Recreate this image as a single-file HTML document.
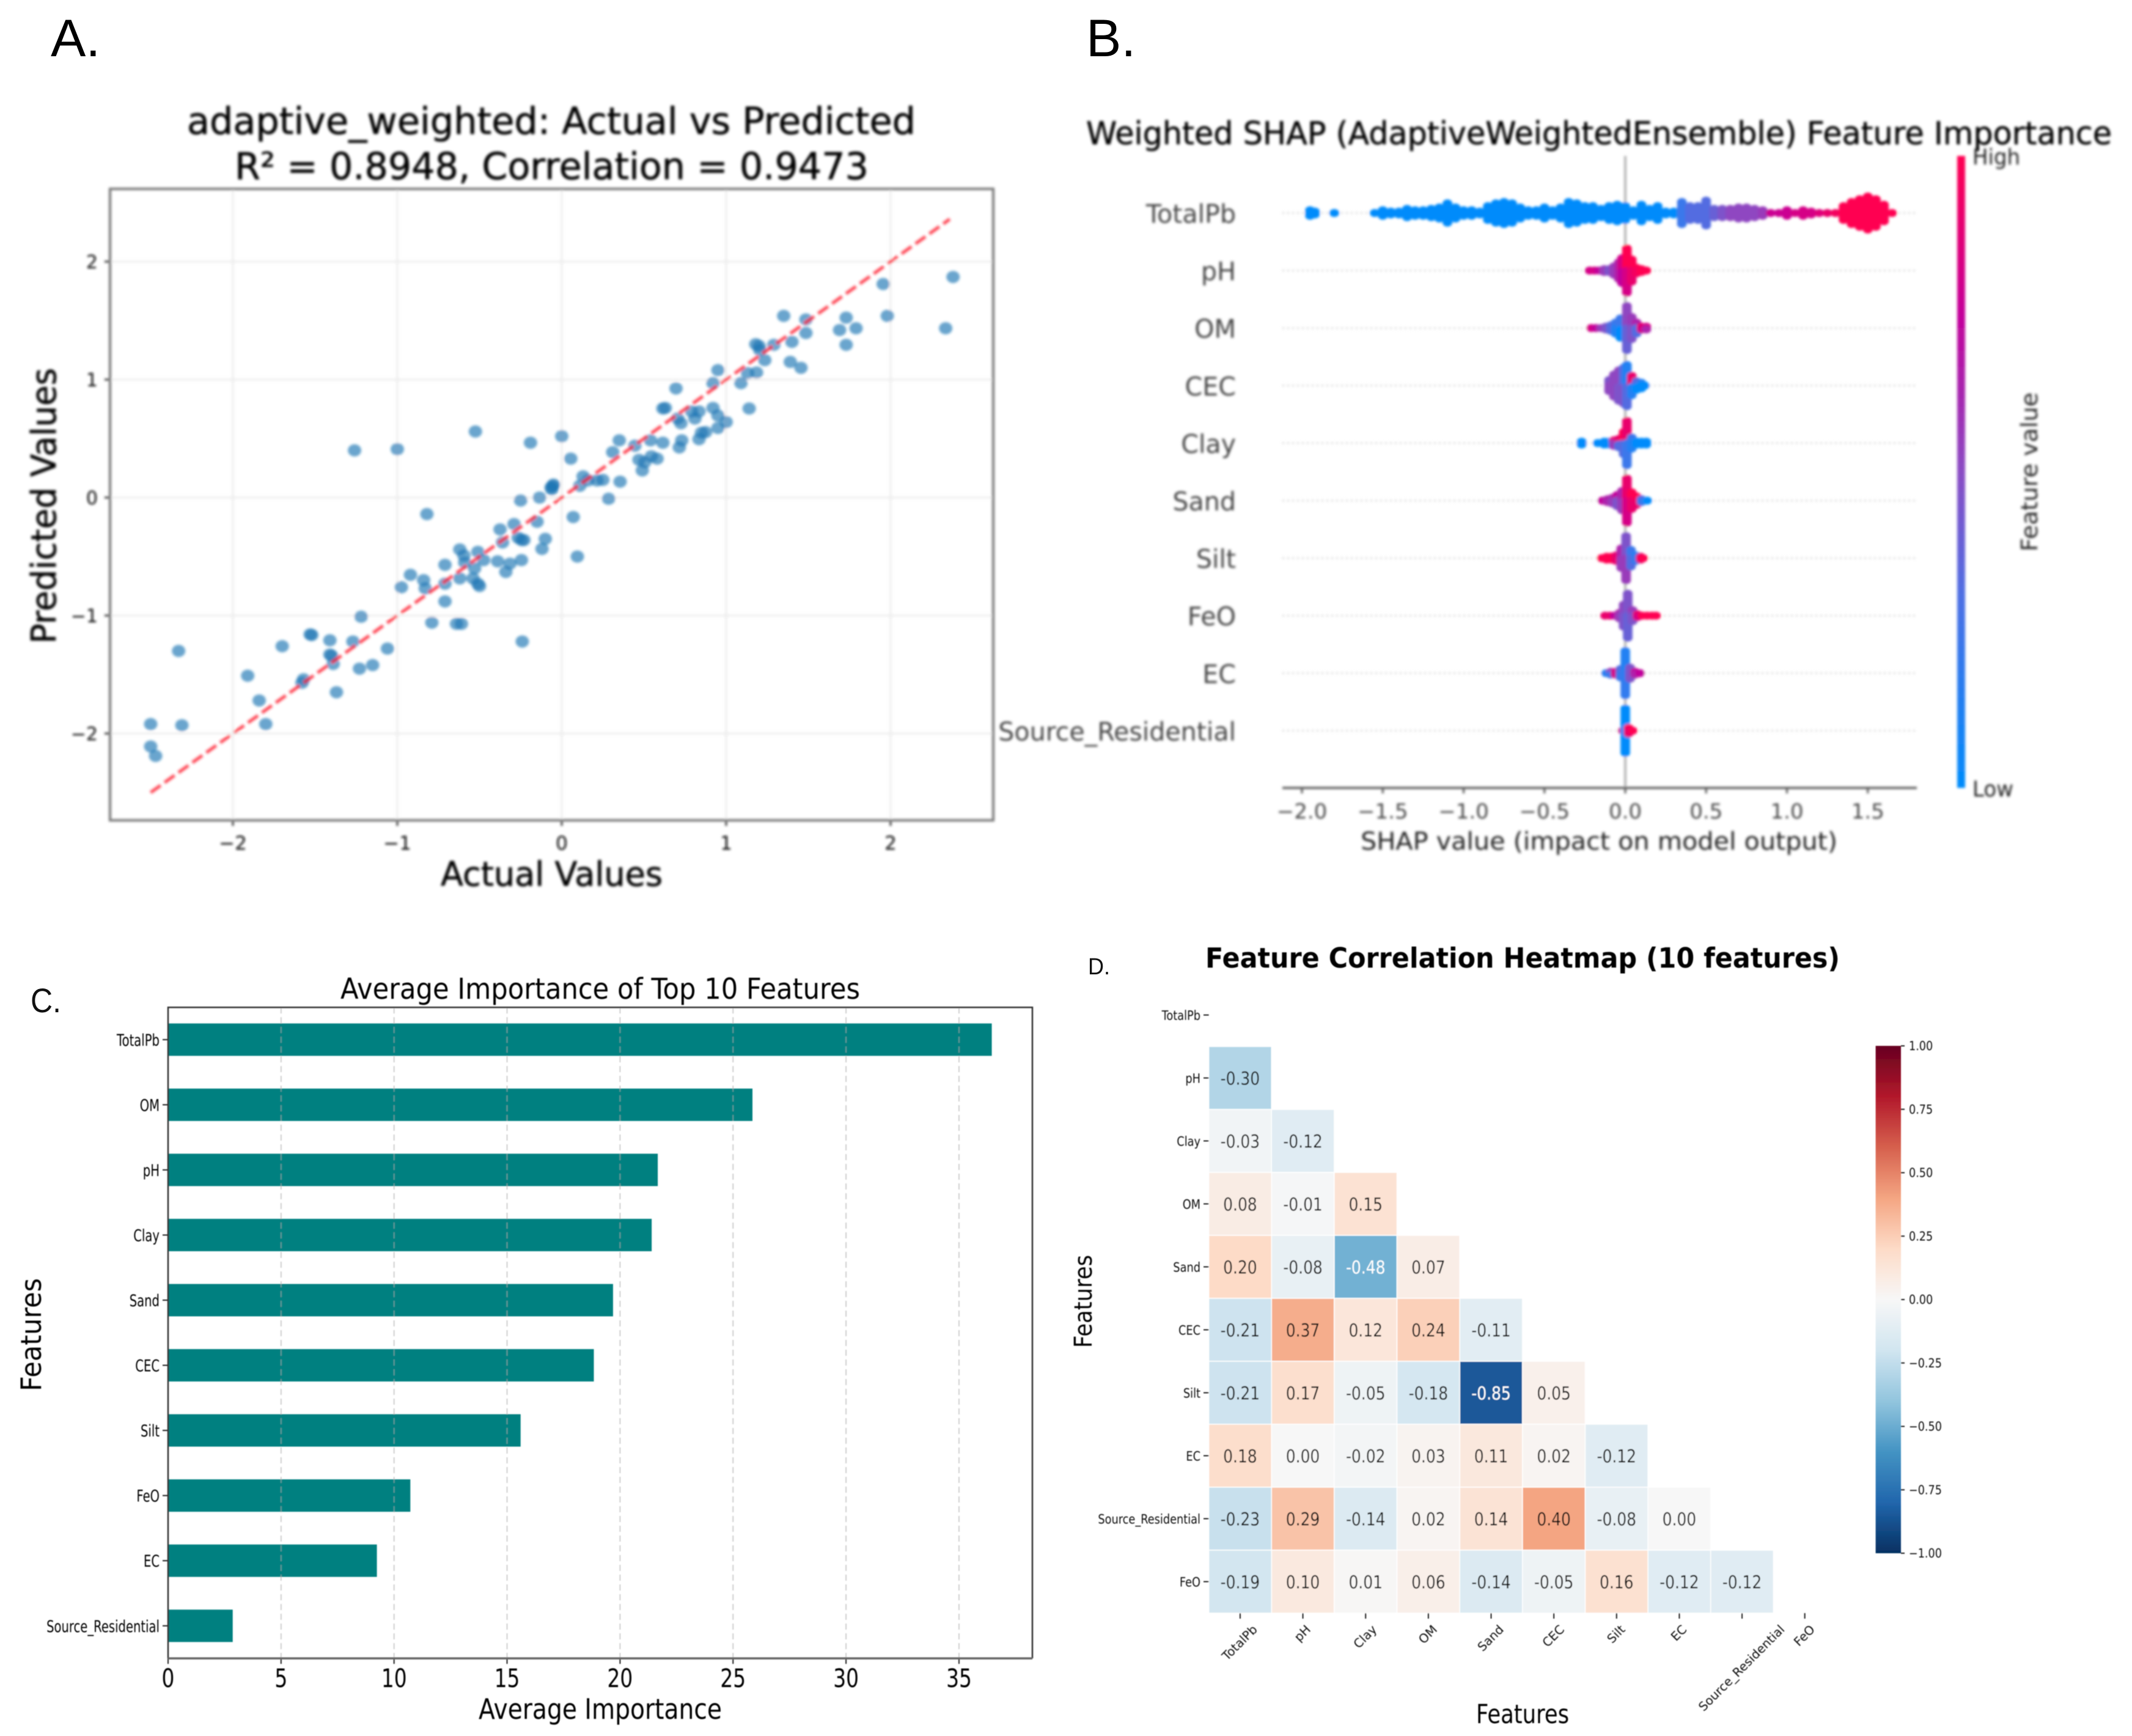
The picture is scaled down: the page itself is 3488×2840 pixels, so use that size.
<!DOCTYPE html>
<html lang="en">
<head>
<meta charset="utf-8">
<title>Model evaluation figure</title>
<style>
html,body{margin:0;padding:0;background:#fff;width:3488px;height:2840px;overflow:hidden}
svg{display:block}
text{font-family:"DejaVu Sans","Liberation Sans",sans-serif}
.lab{font-family:"Liberation Sans",sans-serif;fill:#000}
</style>
</head>
<body>
<svg id="fig" xmlns="http://www.w3.org/2000/svg" width="3488" height="2840" viewBox="0 0 3488 2840">
  <defs>
    <filter id="blurA" x="-5%" y="-5%" width="110%" height="110%"><feGaussianBlur stdDeviation="2.1"/></filter>
    <filter id="blurB" x="-5%" y="-5%" width="110%" height="110%"><feGaussianBlur stdDeviation="2.1"/></filter>
    <filter id="blurC" x="-5%" y="-5%" width="110%" height="110%"><feGaussianBlur stdDeviation="0.7"/></filter>
    <linearGradient id="shapGrad" x1="0" y1="1" x2="0" y2="0">
      <stop offset="0" stop-color="#008bfb"/>
      <stop offset="0.3" stop-color="#4d70e4"/>
      <stop offset="0.5" stop-color="#8a4cc4"/>
      <stop offset="0.75" stop-color="#c4009a"/>
      <stop offset="1" stop-color="#ff0051"/>
    </linearGradient>
    <linearGradient id="heatGrad" x1="0" y1="1" x2="0" y2="0"></linearGradient>
  </defs>

  <text class="lab" x="83" y="92" font-size="86">A.</text>
  <text class="lab" x="1777" y="92" font-size="86">B.</text>
  <text class="lab" x="50" y="1656" font-size="56" textLength="50" lengthAdjust="spacingAndGlyphs" style="fill:#111">C.</text>
  <text class="lab" x="1780" y="1594" font-size="38" textLength="36" lengthAdjust="spacingAndGlyphs" style="fill:#111">D.</text>

  <g id="panelA" filter="url(#blurA)">
    <text x="306" y="219" font-size="61" fill="#000" stroke="#000" stroke-width="0.6" textLength="1192" lengthAdjust="spacingAndGlyphs">adaptive_weighted: Actual vs Predicted</text>
    <text x="384" y="293" font-size="61" fill="#000" stroke="#000" stroke-width="0.6" textLength="1037" lengthAdjust="spacingAndGlyphs">R² = 0.8948, Correlation = 0.9473</text>
    <text x="721" y="1449" font-size="55" fill="#000" stroke="#000" stroke-width="0.6" textLength="363" lengthAdjust="spacingAndGlyphs">Actual Values</text>
    <text transform="translate(91,1053) rotate(-90)" font-size="56" fill="#000" stroke="#000" stroke-width="0.6" textLength="451" lengthAdjust="spacingAndGlyphs">Predicted Values</text>
  </g>

  <g id="panelB" filter="url(#blurB)">
    <text x="1777" y="236" font-size="52" fill="#000" stroke="#000" stroke-width="0.5" textLength="1678" lengthAdjust="spacingAndGlyphs">Weighted SHAP (AdaptiveWeightedEnsemble) Feature Importance</text>
    <text x="2226" y="1390" font-size="40" fill="#222" textLength="780" lengthAdjust="spacingAndGlyphs">SHAP value (impact on model output)</text>
    <rect x="3202" y="255" width="13" height="1034" fill="url(#shapGrad)"/>
    <text x="3227" y="269" font-size="36" fill="#222" textLength="78" lengthAdjust="spacingAndGlyphs">High</text>
    <text x="3227" y="1303" font-size="36" fill="#222" textLength="67" lengthAdjust="spacingAndGlyphs">Low</text>
    <text transform="translate(3333,902) rotate(-90)" font-size="37" fill="#222" textLength="260" lengthAdjust="spacingAndGlyphs">Feature value</text>
  </g>

  <g id="panelC" filter="url(#blurC)">
    <text x="557" y="1634" font-size="47" fill="#000" textLength="850" lengthAdjust="spacingAndGlyphs">Average Importance of Top 10 Features</text>
    <text x="783" y="2812" font-size="46" fill="#000" textLength="398" lengthAdjust="spacingAndGlyphs">Average Importance</text>
    <text transform="translate(67,2276) rotate(-90)" font-size="46" fill="#000" textLength="185" lengthAdjust="spacingAndGlyphs">Features</text>
  </g>

  <g id="panelD" filter="url(#blurC)">
    <text x="1972" y="1583" font-size="45" font-weight="bold" fill="#000" textLength="1038" lengthAdjust="spacingAndGlyphs">Feature Correlation Heatmap (10 features)</text>
    <text x="2415" y="2819" font-size="43" fill="#000" textLength="152" lengthAdjust="spacingAndGlyphs">Features</text>
    <text transform="translate(1786,2205) rotate(-90)" font-size="40" fill="#000" textLength="152" lengthAdjust="spacingAndGlyphs">Features</text>
  </g>
</svg>

<script>
/* ---------- Panel A data ---------- */
const actualValues = [-2.5,-2.5,-2.47,-2.31,-2.33,-1.91,-1.84,-1.80,-1.70,-1.58,-1.57,-1.53,-1.52,-1.41,-1.41,-1.40,-1.39,-1.37,-1.27,-1.23,-1.22,-1.15,-1.06,-1.26,-1.0,-0.525,-0.975,-0.92,-0.84,-0.83,-0.82,-0.79,-0.71,-0.71,-0.71,-0.64,-0.61,-0.62,-0.62,-0.595,-0.59,-0.54,-0.53,-0.51,-0.51,-0.50,-0.475,-0.39,-0.375,-0.36,-0.34,-0.315,-0.29,-0.265,-0.245,-0.245,-0.23,-0.24,-0.25,-0.19,-0.15,-0.135,-0.10,-0.12,-0.065,-0.055,-0.06,-0.05,0,0.055,0.07,0.095,0.11,0.13,0.16,0.215,0.25,0.285,0.31,0.355,0.35,0.445,0.47,0.49,0.505,0.54,0.545,0.58,0.615,0.615,0.63,0.695,0.715,0.73,0.705,0.725,0.79,0.835,0.81,0.835,0.85,0.875,0.92,0.95,1.0,0.95,0.92,0.95,1.09,1.13,1.14,1.185,1.18,1.20,1.205,1.235,1.29,1.35,1.39,1.40,1.455,1.485,1.485,1.69,1.73,1.73,1.79,1.955,1.98,2.335,2.38];
const predictedValues = [-1.92,-2.11,-2.19,-1.93,-1.30,-1.51,-1.72,-1.92,-1.26,-1.57,-1.54,-1.16,-1.165,-1.21,-1.33,-1.34,-1.41,-1.65,-1.22,-1.45,-1.01,-1.42,-1.28,0.40,0.41,0.56,-0.76,-0.655,-0.70,-0.77,-0.14,-1.06,-0.57,-0.73,-0.88,-1.07,-1.07,-0.44,-0.685,-0.49,-0.55,-0.685,-0.60,-0.46,-0.73,-0.75,-0.53,-0.54,-0.27,-0.38,-0.63,-0.56,-0.225,-0.34,-0.53,-0.36,-0.36,-1.22,-0.025,0.465,-0.205,0.0,-0.35,-0.435,0.085,0.10,0.07,0.11,0.52,0.33,-0.165,-0.50,0.10,0.18,0.145,0.145,0.15,-0.01,0.385,0.135,0.485,0.44,0.32,0.23,0.30,0.485,0.35,0.33,0.465,0.755,0.76,0.925,0.425,0.485,0.67,0.63,0.73,0.73,0.67,0.495,0.55,0.555,0.76,0.695,0.64,0.59,0.97,1.08,0.97,1.055,0.755,1.06,1.30,1.285,1.25,1.165,1.295,1.54,1.15,1.32,1.10,1.51,1.395,1.42,1.525,1.295,1.435,1.81,1.54,1.435,1.87];
const identityEnds = [-2.5,2.36];
const scatterXTicks = [-2,-1,0,1,2];
const scatterYTicks = [-2,-1,0,1,2];

/* ---------- Panel B data ---------- */
const shapFeatures = ["TotalPb","pH","OM","CEC","Clay","Sand","Silt","FeO","EC","Source_Residential"];
const shapXTicks = [-2.0,-1.5,-1.0,-0.5,0.0,0.5,1.0,1.5];
const totalPbShap = [-1.95,-1.92,-1.80,-1.55,-1.50,-1.45,-1.40,-1.35,-1.30,-1.25,-1.20,-1.15,-1.10,-1.05,-1.00,-.95,-.90,-.85,-.80,-.75,-.70,-.65,-.60,-.55,-.50,-.45,-.40,-.35,-.30,-.25,-.20,-.15,-.10,-.05,0,.05,.10,.15,.20,.25,.30,.35,.40,.45,.50,.55,.60,.65,.70,.75,.80,.85,.90,.95,1.00,1.05,1.10,1.15,1.20,1.25,1.30,1.35,1.40,1.45,1.50,1.55,1.60,1.65];
const totalPbCount = [3,2,1,1,3,2,2,4,3,3,4,5,8,5,3,3,2,6,8,9,8,5,3,3,5,3,5,9,8,6,6,4,6,7,6,3,7,4,6,2,2,9,6,6,10,4,4,4,5,5,4,3,1,1,3,1,3,2,1,1,1,6,9,11,13,11,7,1];
const totalPbFeature = [0,0,0,0,0,0,0,0,0,0,0,0,0,0,0,0,0,0,0,0,0,0,0,0,0,0,0,0,0,0,0,0,0,0,0,0,0,0,0,0,0,.2,.3,.3,.3,.35,.4,.45,.45,.45,.45,.5,.75,.75,.75,.8,.8,.8,.85,.9,.95,1,1,1,1,1,1,1];
const phShap = [-.22,-.19,-.16,-.13,-.10,-.07,-.04,-.02,.01,.04,.07,.10,.13];
const phCount = [1,1,1,2,2,4,7,10,17,9,3,2,1];
const phTop = [.8,.8,.7,.5,.4,.5,.6,.8,1,1,1,1,1];
const phBottom = [.8,.8,.7,.5,.4,.5,.6,.7,.8,.9,.95,1,1];
const omShap = [-.21,-.18,-.15,-.12,-.09,-.06,-.03,.01,.04,.07,.10,.13];
const omCount = [1,1,1,2,3,5,8,17,9,5,2,2];
const omTop = [.8,.7,.5,.4,.3,.2,.2,.45,.5,.6,.9,.8];
const omBottom = [.8,.7,.5,.4,.3,.1,0,.35,.4,.3,.8,.6];
const cecShap = [-.10,-.07,-.04,-.01,.01,.04,.07,.10,.12];
const cecCount = [5,9,12,14,16,8,4,3,1];
const cecTop = [.4,.45,.45,.3,.1,.9,.3,.1,0];
const cecBottom = [.45,.45,.4,.4,.3,.1,0,0,0];
const clayShap = [-.27,-.17,-.13,-.10,-.07,-.04,-.01,.01,.04,.07,.10,.13];
const clayCount = [2,1,2,2,3,4,9,17,5,2,2,2];
const clayTop = [0,0,0,0,.9,.9,1,.9,.2,0,0,0];
const clayBottom = [0,0,0,0,.5,.3,.3,.2,.1,0,0,0];
const sandShap = [-.14,-.11,-.08,-.05,-.02,.01,.04,.07,.10,.135];
const sandCount = [1,2,3,5,8,17,7,4,2,1];
const sandTop = [.7,.6,.6,.7,.6,.9,1,1,.3,0];
const sandBottom = [.7,.6,.5,.4,.5,.8,.9,.9,.2,0];
const siltShap = [-.145,-.115,-.085,-.055,-.025,.005,.035,.065,.095,.11];
const siltCount = [1,2,2,3,8,17,7,3,2,1];
const siltTop = [1,1,1,.9,.6,.4,.2,.1,.9,1];
const siltBottom = [1,1,1,.9,.5,.5,.3,.2,.9,1];
const feoShap = [-.125,-.095,-.065,-.035,-.01,.015,.045,.075,.105,.135,.165,.19];
const feoCount = [1,1,1,3,9,17,5,2,1,1,1,1];
const feoTop = [.9,.9,.8,.6,.45,.4,.5,.9,1,1,1,1];
const feoBottom = [.9,.9,.7,.5,.4,.35,.4,.8,1,1,1,1];
const ecShap = [-.118,-.09,-.06,-.03,0,.03,.06,.09];
const ecCount = [1,2,2,4,17,5,2,1];
const ecTop = [.1,.5,.8,.3,.1,.4,.7,.7];
const ecBottom = [.1,.2,.8,.2,.15,.4,.6,.7];
const sourceShap = [-.015,0,.02,.045];
const sourceCount = [1,17,3,1];
const sourceTop = [.8,0,1,1];
const sourceBottom = [.8,0,.9,1];

/* ---------- Panel C data ---------- */
const importanceFeatures = ["TotalPb","OM","pH","Clay","Sand","CEC","Silt","FeO","EC","Source_Residential"];
const importanceValues = [36.45,25.86,21.67,21.4,19.69,18.84,15.6,10.72,9.24,2.86];
const importanceTicks = [0,5,10,15,20,25,30,35];

/* ---------- Panel D data ---------- */
const heatFeatures = ["TotalPb","pH","Clay","OM","Sand","CEC","Silt","EC","Source_Residential","FeO"];
const corrRow0 = [];
const corrRow1 = [-0.30];
const corrRow2 = [-0.03,-0.12];
const corrRow3 = [0.08,-0.01,0.15];
const corrRow4 = [0.20,-0.08,-0.48,0.07];
const corrRow5 = [-0.21,0.37,0.12,0.24,-0.11];
const corrRow6 = [-0.21,0.17,-0.05,-0.18,-0.85,0.05];
const corrRow7 = [0.18,0.00,-0.02,0.03,0.11,0.02,-0.12];
const corrRow8 = [-0.23,0.29,-0.14,0.02,0.14,0.40,-0.08,0.00];
const corrRow9 = [-0.19,0.10,0.01,0.06,-0.14,-0.05,0.16,-0.12,-0.12];
const heatColorbarTicks = [1.00,0.75,0.50,0.25,0.00,-0.25,-0.50,-0.75,-1.00];
const rdBuStops = ["#053061","#2166ac","#4393c3","#92c5de","#d1e5f0","#f7f7f7","#fddbc7","#f4a582","#d6604d","#b2182b","#67001f"];
const shapColorStops = ["#008bfb","#2f7df0","#4d70e4","#8a4cc4","#a82ab0","#c4009a","#e00078","#ff0051"];

/* ---------- Helpers ---------- */
const NS = "http://www.w3.org/2000/svg";
function mk(tag, attrs, parent, txt){
  const el = document.createElementNS(NS, tag);
  for(const k in attrs){ el.setAttribute(k, attrs[k]); }
  if(txt !== undefined){ el.textContent = txt; }
  parent.appendChild(el);
  return el;
}
function squeeze(el, factor){
  const w = el.getComputedTextLength();
  el.setAttribute("textLength", (w*factor).toFixed(1));
  el.setAttribute("lengthAdjust", "spacingAndGlyphs");
}
function hexRgb(h){ return [parseInt(h.slice(1,3),16),parseInt(h.slice(3,5),16),parseInt(h.slice(5,7),16)]; }
function ramp(stops, t){
  const p = Math.max(0,Math.min(1,t))*(stops.length-1);
  const i = Math.min(Math.floor(p), stops.length-2);
  const f = p-i, a = hexRgb(stops[i]), b = hexRgb(stops[i+1]);
  return "rgb("+a.map((c,k)=>Math.round(c+(b[k]-c)*f)).join(",")+")";
}
function minusFmt(v, d){ return (v<0?"\u2212":"")+Math.abs(v).toFixed(d); }

/* ---------- Panel A ---------- */
const gA = document.getElementById("panelA");
const xA = v => 919 + 269*v;
const yA = v => 814 - 193*v;
const A_BOX = {l:180, r:1625, t:309, b:1342};
scatterXTicks.forEach(t=>{
  const g = mk("line",{x1:xA(t),x2:xA(t),y1:A_BOX.t,y2:A_BOX.b,stroke:"#ececec","stroke-width":3},gA);
  
  
  const tk = mk("line",{x1:xA(t),x2:xA(t),y1:A_BOX.b,y2:A_BOX.b+9,stroke:"#333","stroke-width":3},gA);
  
  
  const lb = mk("text",{x:xA(t),y:1390,"font-size":31,"text-anchor":"middle",fill:"#111"},gA,t<0?"\u2212"+Math.abs(t):String(t));
  
  
});
scatterYTicks.forEach(t=>{
  const g = mk("line",{x1:A_BOX.l,x2:A_BOX.r,y1:yA(t),y2:yA(t),stroke:"#ececec","stroke-width":3},gA);
  
  
  const tk = mk("line",{x1:A_BOX.l-9,x2:A_BOX.l,y1:yA(t),y2:yA(t),stroke:"#333","stroke-width":3},gA);
  
  
  const lb = mk("text",{x:160,y:yA(t)+11,"font-size":30,"text-anchor":"end",fill:"#111"},gA,t<0?"\u2212"+Math.abs(t):String(t));
  
  
});
const frameA = mk("rect",{x:A_BOX.l,y:A_BOX.t,width:A_BOX.r-A_BOX.l,height:A_BOX.b-A_BOX.t,fill:"none",stroke:"#777","stroke-width":4},gA);


actualValues.forEach((a,i)=>{
  const dot = mk("ellipse",{cx:xA(a),cy:yA(predictedValues[i]),rx:11,ry:10,fill:"#1f77b4","fill-opacity":0.66},gA);
  
  
});
const idLine = mk("line",{x1:xA(identityEnds[0]),y1:yA(identityEnds[0]),x2:xA(identityEnds[1]),y2:yA(identityEnds[1]),stroke:"#ff1f2f","stroke-opacity":0.78,"stroke-width":5.5,"stroke-dasharray":"20 8"},gA);



/* ---------- Panel B ---------- */
const gB = document.getElementById("panelB");
const xB = v => 2659 + 264.5*v;
const yB = i => 348.5 + 94.1*i;
const SWARM_STEP = 4.5;
shapFeatures.forEach((f,i)=>{
  const guide = mk("line",{x1:2098,x2:3136,y1:yB(i),y2:yB(i),stroke:"#d8d8d8","stroke-width":3,"stroke-dasharray":"3 5"},gB);
  
  
  const lb = mk("text",{x:2022,y:yB(i)+16,"font-size":42,"text-anchor":"end",fill:"#444"},gB,f);
  
  
  squeeze(lb,0.98);
});
const zeroLine = mk("line",{x1:xB(0),x2:xB(0),y1:255,y2:1289,stroke:"#b5b5b5","stroke-width":4},gB);


const axisB = mk("line",{x1:2098,x2:3136,y1:1289,y2:1289,stroke:"#555","stroke-width":3.5},gB);


shapXTicks.forEach(t=>{
  const tk = mk("line",{x1:xB(t),x2:xB(t),y1:1289,y2:1298,stroke:"#555","stroke-width":3},gB);
  
  
  const lb = mk("text",{x:xB(t),y:1339,"font-size":34,"text-anchor":"middle",fill:"#444"},gB,minusFmt(t,1));
  
  
});
function drawSwarm(row, shap, counts, top, bottom){
  shap.forEach((s,b)=>{
    const n = counts[b];
    for(let k=0;k<n;k++){
      const off = (k-(n-1)/2)*SWARM_STEP;
      const f = off<0 ? top[b] : bottom[b];
      const dot = mk("ellipse",{cx:xB(s),cy:yB(row)+off,rx:8,ry:6.5,fill:ramp(shapColorStops,f)},gB);
      
      
    }
  });
}
drawSwarm(0,totalPbShap,totalPbCount,totalPbFeature,totalPbFeature);
drawSwarm(1,phShap,phCount,phTop,phBottom);
drawSwarm(2,omShap,omCount,omTop,omBottom);
drawSwarm(3,cecShap,cecCount,cecTop,cecBottom);
drawSwarm(4,clayShap,clayCount,clayTop,clayBottom);
drawSwarm(5,sandShap,sandCount,sandTop,sandBottom);
drawSwarm(6,siltShap,siltCount,siltTop,siltBottom);
drawSwarm(7,feoShap,feoCount,feoTop,feoBottom);
drawSwarm(8,ecShap,ecCount,ecTop,ecBottom);
drawSwarm(9,sourceShap,sourceCount,sourceTop,sourceBottom);

/* ---------- Panel C ---------- */
const gC = document.getElementById("panelC");
const xC = v => 275 + 36.97*v;
const yC = i => 1700.8 + 106.55*i;
const C_BOX = {l:275, r:1689, t:1648, b:2713};
const BAR_H = 53;
importanceFeatures.forEach((f,i)=>{
  const bar = mk("rect",{x:xC(0),y:yC(i)-BAR_H/2,width:xC(importanceValues[i])-xC(0),height:BAR_H,fill:"#008080"},gC);
  
  
  const tk = mk("line",{x1:C_BOX.l-9,x2:C_BOX.l,y1:yC(i),y2:yC(i),stroke:"#222","stroke-width":2},gC);
  
  
  const lb = mk("text",{x:261,y:yC(i)+10,"font-size":27,"text-anchor":"end",fill:"#000"},gC,f);
  
  
  squeeze(lb,0.725);
});
importanceTicks.forEach(t=>{
  if(t>0){
    const g = mk("line",{x1:xC(t),x2:xC(t),y1:C_BOX.t,y2:C_BOX.b,stroke:"#aaa","stroke-opacity":0.55,"stroke-width":2,"stroke-dasharray":"10 6"},gC);
    
    
  }
  const tk = mk("line",{x1:xC(t),x2:xC(t),y1:C_BOX.b,y2:C_BOX.b+9,stroke:"#222","stroke-width":2},gC);
  
  
  const lb = mk("text",{x:xC(t),y:2760,"font-size":42,"text-anchor":"middle",fill:"#000"},gC,String(t));
  
  
  squeeze(lb,0.78);
});
const frameC = mk("path",{d:`M${C_BOX.l} ${C_BOX.b}V${C_BOX.t}H${C_BOX.r}V${C_BOX.b}`,fill:"none",stroke:"#333","stroke-width":2.5},gC);


const baseC = mk("line",{x1:C_BOX.l,x2:C_BOX.r,y1:C_BOX.b,y2:C_BOX.b,stroke:"#666","stroke-width":3.5},gC);



/* ---------- Panel D ---------- */
const gD = document.getElementById("panelD");
const CELL_W = 102.64, CELL_H = 103;
const xD = c => 1977.6 + CELL_W*c;
const yD = r => 1609 + CELL_H*r;
const corrRows = [corrRow0,corrRow1,corrRow2,corrRow3,corrRow4,corrRow5,corrRow6,corrRow7,corrRow8,corrRow9];
const heatColor = v => ramp(rdBuStops,(v+1)/2);
corrRows.forEach((row,r)=>{
  row.forEach((v,c)=>{
    const cell = mk("rect",{x:xD(c),y:yD(r),width:CELL_W,height:CELL_H,fill:heatColor(v),stroke:"#fff","stroke-width":1.5},gD);
    
    
    const lb = mk("text",{x:xD(c)+CELL_W/2,y:yD(r)+CELL_H/2+11,"font-size":29,"text-anchor":"middle",fill:Math.abs(v)>0.45?"#fff":"#111"},gD,v.toFixed(2));
    
    
    squeeze(lb,0.86);
  });
});
heatFeatures.forEach((f,i)=>{
  const ty = yD(i)+CELL_H/2;
  const tk = mk("line",{x1:1969,x2:1977.6,y1:ty,y2:ty,stroke:"#222","stroke-width":2},gD);
  
  
  const lb = mk("text",{x:1964,y:ty+8,"font-size":21,"text-anchor":"end",fill:"#111"},gD,f);
  
  
  squeeze(lb,0.845);
  const tx = xD(i)+CELL_W/2;
  const tk2 = mk("line",{x1:tx,x2:tx,y1:2639,y2:2648,stroke:"#222","stroke-width":2},gD);
  
  
  const lb2 = mk("text",{x:0,y:0,"font-size":20,"text-anchor":"middle",fill:"#111"},gD,f);
  
  
  const len = lb2.getComputedTextLength();
  const half = len*0.7071/2 + 5;
  lb2.setAttribute("transform",`translate(${tx+4},${2656+half+6}) rotate(-45)`);
});
const gradD = document.getElementById("heatGrad");
rdBuStops.forEach((col,i)=>{
  mk("stop",{offset:i/(rdBuStops.length-1),"stop-color":col},gradD);
});
const cbTop = 1711, cbBot = 2541, cbL = 3068.6, cbR = 3110;
const yCb = v => cbTop + (1-v)/2*(cbBot-cbTop);
const cb = mk("rect",{x:cbL,y:cbTop,width:cbR-cbL,height:cbBot-cbTop,fill:"url(#heatGrad)"},gD);


heatColorbarTicks.forEach(t=>{
  const tk = mk("line",{x1:cbR,x2:cbR+6,y1:yCb(t),y2:yCb(t),stroke:"#222","stroke-width":2},gD);
  
  
  const lb = mk("text",{x:3123,y:yCb(t)+7,"font-size":20,fill:"#111"},gD,minusFmt(t,2));
  
  
  squeeze(lb,0.88);
});
</script>
</body>
</html>
